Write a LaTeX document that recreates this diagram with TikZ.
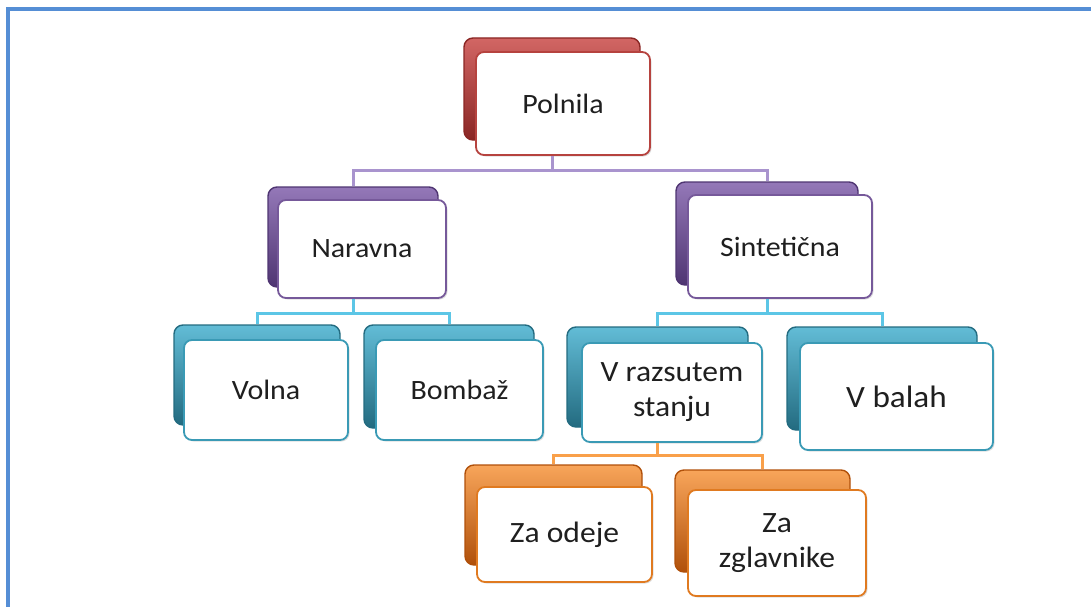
\documentclass[tikz,border=0pt]{standalone}
\usepackage{fontspec}
\setmainfont{Carlito}[FakeStretch=1.07]
\definecolor{frame}{HTML}{558ED5}
\definecolor{redD}{HTML}{8A2624}\definecolor{redL}{HTML}{D26664}\definecolor{redB}{HTML}{B6433F}
\definecolor{purD}{HTML}{4F3572}\definecolor{purL}{HTML}{9478B8}\definecolor{purB}{HTML}{76599A}
\definecolor{tealD}{HTML}{236B80}\definecolor{tealL}{HTML}{62BCD6}\definecolor{tealB}{HTML}{3A9AB5}
\definecolor{oraD}{HTML}{B0500A}\definecolor{oraL}{HTML}{F8A55A}\definecolor{oraB}{HTML}{E07A20}
\definecolor{conP}{HTML}{A994CE}\definecolor{conB}{HTML}{5CC6E6}\definecolor{conO}{HTML}{F9A04A}
\tikzset{
  bk/.style={rounded corners=9pt, inner sep=0pt, line width=1.4pt},
  backR/.style={bk, draw=redD, top color=redL, bottom color=redD},
  backP/.style={bk, draw=purD, top color=purL, bottom color=purD},
  backT/.style={bk, draw=tealD, top color=tealL, bottom color=tealD},
  backO/.style={bk, draw=oraD, top color=oraL, bottom color=oraD},
  fr/.style={rounded corners=8pt, line width=1.8pt, fill=white, inner sep=2pt, align=center, text=black!88, font=\fontsize{28}{34}\selectfont,
    drop shadow={shadow xshift=1.5pt, shadow yshift=-1.5pt, opacity=0.25}},
  frR/.style={fr, draw=redB}, frP/.style={fr, draw=purB}, frT/.style={fr, draw=tealB}, frO/.style={fr, draw=oraB},
  con/.style={line width=3pt},
  conPs/.style={con, draw=conP}, conBs/.style={con, draw=conB}, conOs/.style={con, draw=conO}
}
\usetikzlibrary{shadows}
\begin{document}
\begin{tikzpicture}[x=1pt,y=-1pt]
\useasboundingbox (0,0) rectangle (1091,607);
% frame
\fill[frame] (6,7) rectangle (1091,11);
\fill[frame] (6,7) rectangle (10,607);
% boxes
\node[backR, minimum width=176pt, minimum height=102pt] (polB) at (552,89) {};
\node[frR, minimum width=174pt, minimum height=103pt] (pol) at (563,103.5) {Polnila};
\node[backP, minimum width=170pt, minimum height=100pt] (narB) at (353,237) {};
\node[frP, minimum width=168pt, minimum height=98pt] (nar) at (362,249) {Naravna};
\node[backP, minimum width=182pt, minimum height=103pt] (sinB) at (767,233.5) {};
\node[frP, minimum width=184pt, minimum height=103pt] (sin) at (780,246.5) {Sintetična};
\node[backT, minimum width=166pt, minimum height=100pt] (volB) at (257,375) {};
\node[frT, minimum width=164pt, minimum height=100pt] (vol) at (266,390) {Volna};
\node[backT, minimum width=170pt, minimum height=103pt] (bomB) at (449,376.5) {};
\node[frT, minimum width=167pt, minimum height=100pt] (bom) at (459.5,390) {Bombaž};
\node[backT, minimum width=181pt, minimum height=100pt] (razB) at (657.5,377) {};
\node[frT, minimum width=180pt, minimum height=99pt, font=\fontsize{29.5}{35}\selectfont] (raz) at (672,392.5) {V razsutem\\stanju};
\node[backT, minimum width=190pt, minimum height=103pt] (balB) at (882,378.5) {};
\node[frT, minimum width=193pt, minimum height=107pt, font=\fontsize{31}{36}\selectfont] (bal) at (896.5,396.5) {V balah};
\node[backO, minimum width=177pt, minimum height=100pt] (odeB) at (553.5,515) {};
\node[frO, minimum width=175pt, minimum height=95pt, font=\fontsize{29.5}{35}\selectfont] (ode) at (564.5,534.5) {Za odeje};
\node[backO, minimum width=175pt, minimum height=102pt] (zglB) at (762.5,521) {};
\node[frO, minimum width=178pt, minimum height=106pt, font=\fontsize{29.5}{35}\selectfont] (zgl) at (777,543) {Za\\zglavnike};
% connectors
\draw[conPs] (polB |- pol.south) -- ++(0,15) -| (narB.north);
\draw[conPs] (polB |- pol.south) -- ++(0,15) -| (sinB.north);
\draw[conBs] (narB |- nar.south) -- ++(0,15) -| (volB.north);
\draw[conBs] (narB |- nar.south) -- ++(0,15) -| (bomB.north);
\draw[conBs] (sinB |- sin.south) -- ++(0,15) -| (razB.north);
\draw[conBs] (sinB |- sin.south) -- ++(0,15) -| (balB.north);
\draw[conOs] (razB |- raz.south) -- ++(0,13) -| (odeB.north);
\draw[conOs] (razB |- raz.south) -- ++(0,13) -| (zglB.north);
\end{tikzpicture}
\end{document}
